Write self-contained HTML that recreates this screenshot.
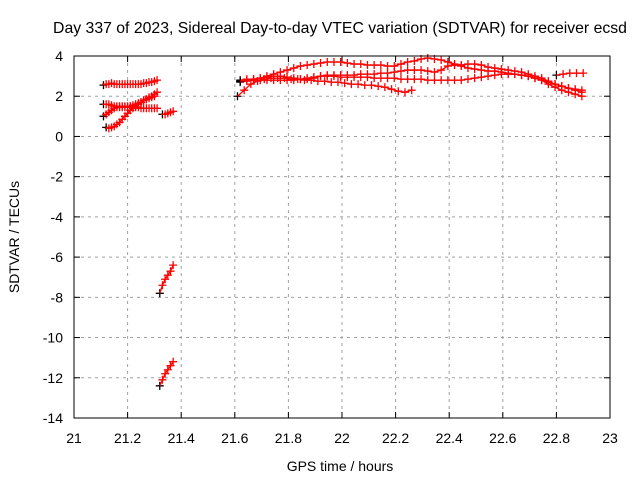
<!DOCTYPE html>
<html><head><meta charset="utf-8"><style>
body{margin:0;background:#fff}
svg{display:block;font-family:"Liberation Sans",sans-serif}
</style></head><body>
<svg id="c" width="640" height="480">
<text x="340" y="33" text-anchor="middle" font-size="15.8">Day 337 of 2023, Sidereal Day-to-day VTEC variation (SDTVAR) for receiver ecsd</text>
<text x="340" y="471" text-anchor="middle" font-size="14">GPS time / hours</text>
<text transform="translate(19,237) rotate(-90)" text-anchor="middle" font-size="14">SDTVAR / TECUs</text>
<g id="grid"></g><g id="ticks"></g><g id="marks"></g>
<rect x="74" y="56" width="536" height="362" fill="none" stroke="#000"/>
</svg>
<script>
const xTicks=[21,21.2,21.4,21.6,21.8,22,22.2,22.4,22.6,22.8,23];
const yTicks=[4,2,0,-2,-4,-6,-8,-10,-12,-14];
// tracks: start hour, step, values
const trackStarts=[21.11,21.11,21.11,21.12,21.33,21.32,21.32,21.62,21.61,21.62,21.62,22.8];
const trackSteps=[0.01,0.01,0.01,0.01,0.01,0.01,0.01,0.025,0.025,0.025,0.025,0.025];
const t1=[2.55,2.6,2.6,2.65,2.6,2.6,2.6,2.6,2.6,2.6,2.6,2.6,2.6,2.6,2.6,2.65,2.65,2.7,2.7,2.75,2.8];
const t2=[1.6,1.6,1.6,1.55,1.5,1.5,1.45,1.45,1.45,1.45,1.5,1.55,1.6,1.65,1.7,1.8,1.85,1.95,2.0,2.1,2.2];
const t3=[1.0,1.1,1.2,1.3,1.4,1.45,1.5,1.5,1.5,1.5,1.5,1.45,1.45,1.45,1.4,1.4,1.4,1.4,1.4,1.4,1.4];
const t4=[0.45,0.4,0.45,0.5,0.6,0.7,0.85,1.0,1.15,1.3,1.4,1.5,1.6,1.7,1.8,1.85,1.9,1.95,2.0];
const t5=[1.1,1.1,1.15,1.2,1.25];
const t6=[-7.8,-7.4,-7.1,-6.9,-6.7,-6.4];
const t7=[-12.4,-12.1,-11.8,-11.6,-11.4,-11.2];
const r1=[2.7,2.75,2.8,2.9,3.0,3.1,3.2,3.3,3.4,3.5,3.55,3.6,3.65,3.7,3.7,3.7,3.65,3.6,3.6,3.55,3.55,3.55,3.5,3.5,3.6,3.7,3.75,3.85,3.9,3.85,3.8,3.7,3.6,3.55,3.6,3.6,3.55,3.45,3.4,3.35,3.3,3.25,3.2,3.1,3.0,2.9,2.75,2.6,2.5,2.4,2.3,2.2];
const r2=[2.0,2.3,2.6,2.75,2.85,2.9,2.9,2.9,2.85,2.85,2.8,2.8,2.75,2.75,2.7,2.7,2.65,2.6,2.6,2.55,2.55,2.5,2.45,2.35,2.25,2.2,2.3];
const r3=[2.8,2.85,2.85,2.9,2.95,3.0,3.0,2.95,2.9,2.85,2.85,2.9,3.0,3.05,3.05,3.05,3.05,3.05,3.1,3.1,3.1,3.15,3.15,3.2,3.25,3.3,3.3,3.3,3.25,3.2,3.3,3.5,3.55,3.5,3.4,3.35,3.3,3.25,3.25,3.2,3.15,3.1,3.05,3.0,2.9,2.8,2.7,2.6,2.5,2.4,2.35,2.3];
const r4=[2.75,2.8,2.8,2.8,2.8,2.8,2.8,2.8,2.8,2.85,2.9,2.95,3.0,3.0,3.0,2.95,2.95,2.95,2.95,2.95,2.9,2.9,2.9,2.9,2.85,2.85,2.85,2.85,2.8,2.8,2.8,2.8,2.8,2.8,2.85,2.9,2.95,3.0,3.05,3.1,3.1,3.1,3.05,3.0,2.9,2.8,2.6,2.45,2.3,2.2,2.1,2.0];
const r5=[3.05,3.1,3.15,3.15,3.15];
const tracks=[t1,t2,t3,t4,t5,t6,t7,r1,r2,r3,r4,r5];

const X=h=>74+(h-21)*268, Y=v=>56+(4-v)*(362/18);
const NS="http://www.w3.org/2000/svg";
function mk(tag,attrs,parent){const e=document.createElementNS(NS,tag);for(const k in attrs)e.setAttribute(k,attrs[k]);parent.appendChild(e);return e;}
const grid=document.getElementById('grid'),ticks=document.getElementById('ticks'),marks=document.getElementById('marks');
xTicks.forEach(t=>{const x=X(t);
 if(t>21&&t<23){const g=mk('line',{x1:x,x2:x,y1:56,y2:418,stroke:'#a0a0a0','stroke-dasharray':'3,4'},grid);
 
 }
 mk('line',{x1:x,x2:x,y1:418,y2:412,stroke:'#000'},ticks);mk('line',{x1:x,x2:x,y1:56,y2:62,stroke:'#000'},ticks);
 const l=mk('text',{x:x,y:443,'text-anchor':'middle','font-size':'14'},ticks);l.textContent=String(t);
 
 });
yTicks.forEach(t=>{const y=Y(t);
 if(t<4&&t>-14){const g=mk('line',{x1:74,x2:610,y1:y,y2:y,stroke:'#a0a0a0','stroke-dasharray':'3,4'},grid);
 
 }
 mk('line',{x1:74,x2:80,y1:y,y2:y,stroke:'#000'},ticks);mk('line',{x1:610,x2:604,y1:y,y2:y,stroke:'#000'},ticks);
 const l=mk('text',{x:63,y:y+5,'text-anchor':'end','font-size':'14'},ticks);l.textContent=String(t);
 
 });
tracks.forEach((vals,ti)=>{vals.forEach((v,i)=>{
 const x=X(trackStarts[ti]+i*trackSteps[ti]),y=Y(v);
 const p=mk('path',{d:`M${x-4},${y}H${x+4}M${x},${y-4}V${y+4}`,stroke:i===0?'#000':'#f00','stroke-width':'1.3'},marks);
 
 });
 for(let i=0;i+1<vals.length;i++){
 const x1=X(trackStarts[ti]+i*trackSteps[ti]),x2=X(trackStarts[ti]+(i+1)*trackSteps[ti]);
 const s=mk('line',{x1:x1,x2:x2,y1:Y(vals[i]),y2:Y(vals[i+1]),stroke:'#f00','stroke-width':'1.3'},marks);
 
 }
});
</script>
</body></html>
